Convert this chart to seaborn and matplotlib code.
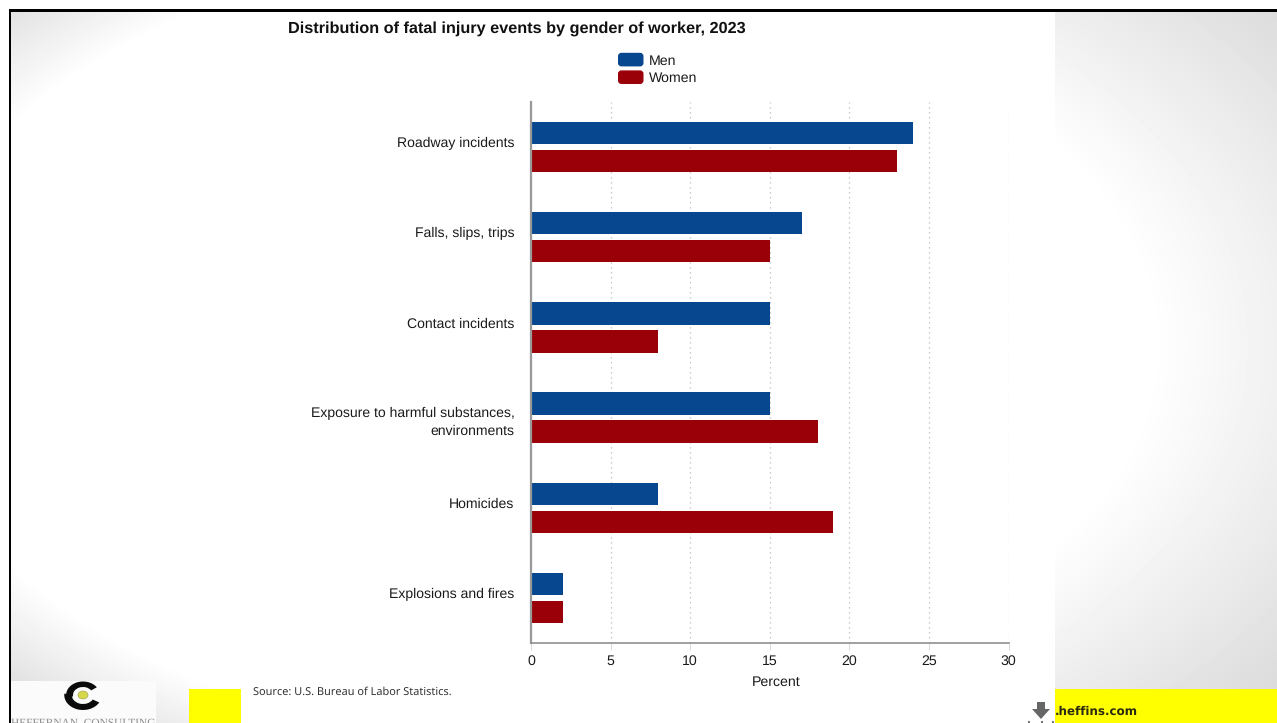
import numpy as np
import pandas as pd
import matplotlib
matplotlib.use("Agg")
import matplotlib.pyplot as plt
import matplotlib.transforms as mtrans
from matplotlib.legend_handler import HandlerPatch
from matplotlib.patches import Rectangle, Wedge, Ellipse, Polygon, FancyBboxPatch, Patch
import seaborn as sns

categories = ["Roadway incidents", "Falls, slips, trips", "Contact incidents",
              "Exposure to harmful substances,\nenvironments", "Homicides",
              "Explosions and fires"]
men = [24, 17, 15, 15, 8, 2]
women = [23, 15, 8, 18, 19, 2]
x_ticks = [0, 5, 10, 15, 20, 25, 30]
title = "Distribution of fatal injury events by gender of worker, 2023"

W, H = 1277, 723
MEN_COLOR = "#07478F"
WOMEN_COLOR = "#990008"
ARIAL = "Liberation Sans"

sns.set_theme(style="white")
plt.rcParams["font.family"] = [ARIAL, "DejaVu Sans"]
plt.rcParams["text.hinting"] = "none"

df = pd.DataFrame({
    "category": categories * 2,
    "percent": men + women,
    "gender": ["Men"] * len(men) + ["Women"] * len(women),
})

fig = plt.figure(figsize=(W / 100, H / 100), dpi=100, facecolor="white")

# Slide layer, addressed in pixels from the top-left corner
slide = fig.add_axes([0, 0, 1, 1], zorder=0)
slide.set_xlim(0, W)
slide.set_ylim(H, 0)
slide.axis("off")

# Slide backdrop: white centre fading to grey towards the corners
yy, xx = np.mgrid[0:H, 0:W]
left_t = np.hypot((xx - 600) / 590, (yy - 345) / 345)
right_t = np.hypot((xx - 600) / 550, (yy - 345) / 345)
shade = np.where(xx < 600,
                 140 * np.clip(left_t - 1.18, 0, None),
                 62 * np.clip(right_t - 1.0, 0, None))
slide.imshow(255 - np.clip(shade, 0, 60), cmap="gray", vmin=0, vmax=255,
             extent=(0, W, H, 0), aspect="auto", zorder=0, interpolation="bilinear")
slide.set_xlim(0, W)
slide.set_ylim(H, 0)

# Slide frame and margins outside it
slide.add_patch(Rectangle((0, 0), W, 9, fc="white", ec="none", zorder=1))
slide.add_patch(Rectangle((0, 0), 9, H, fc="white", ec="none", zorder=1))
slide.add_patch(Rectangle((8.5, 9), W, 2.5, fc="black", ec="none", zorder=3))
slide.add_patch(Rectangle((8.5, 9), 2.5, H, fc="black", ec="none", zorder=3))

# White chart panel
slide.add_patch(Rectangle((240, 11.5), 815, H, fc="white", ec="none", zorder=1))

# Footer strips
slide.add_patch(Rectangle((189, 689), 52, 34, fc="#FFFF00", ec="none", zorder=2))
slide.add_patch(Rectangle((1055, 689), 222, 34, fc="#FFFF00", ec="none", zorder=2))
slide.text(1055, 712, ".heffins.com", family="DejaVu Sans", weight="bold", fontsize=8.6,
           color="#2A2A10", va="center", ha="left", zorder=4)
slide.text(253, 691.5, "Source: U.S. Bureau of Labor Statistics.", family="Noto Sans",
           fontsize=7.9, color="#333333", va="center", ha="left", zorder=4)

# Company mark: two crescents around a yellow dot, slightly stretched sideways
slide.add_patch(Rectangle((11, 681), 145, 42, fc="#FBFBFB", ec="none", zorder=2))
stretch = mtrans.Affine2D().translate(-83, -695).scale(1.25, 1).translate(83, 695) + slide.transData
slide.add_patch(Wedge((83, 695), 13.5, 170, 325, width=5.5, fc="#0B0B0B", ec="none", zorder=3,
                      transform=stretch))
slide.add_patch(Wedge((83, 695), 15, 30, 185, width=6, fc="#0B0B0B", ec="none", zorder=3,
                      transform=stretch))
slide.add_patch(Ellipse((83, 695), 10, 8, fc="#D6D84A", ec="#A8A860", lw=0.5, zorder=4))
slide.text(11, 726, "HEFFERNAN  CONSULTING", family="Liberation Serif", fontsize=8.2,
           color="#8A8A8A", va="baseline", ha="left", zorder=4, clip_on=True)

# Download glyph
slide.add_patch(Polygon([(1037, 702), (1045, 702), (1045, 709), (1050, 709),
                         (1041, 719), (1032, 709), (1037, 709)],
                        fc="#666666", ec="none", zorder=4))
for px in (1028, 1041, 1052):
    slide.add_patch(Rectangle((px, 721), 1.5, 2, fc="#777777", ec="none", zorder=4))

# Chart
ax = fig.add_axes([531 / W, 1 - 643 / H, 477.5 / W, 541 / H], zorder=2)
ax.patch.set_visible(False)
sns.barplot(data=df, y="category", x="percent", hue="gender", order=categories,
            hue_order=["Men", "Women"], palette=[MEN_COLOR, WOMEN_COLOR],
            width=0.622, gap=0.2, saturation=1, linewidth=0, legend=False, ax=ax)

ax.set_xlim(0, 30)
ax.set_xticks(x_ticks)
ax.grid(axis="x", color="#BBBBBB", lw=0.9, ls=(0, (1, 3)))
ax.grid(axis="y", visible=False)
ax.set_axisbelow(True)

for side in ("top", "right"):
    ax.spines[side].set_visible(False)
ax.spines["left"].set_color("#999999")
ax.spines["left"].set_linewidth(1.6)
ax.spines["bottom"].set_color("#909090")
ax.spines["bottom"].set_linewidth(1.2)

ax.tick_params(axis="x", length=5, width=0.8, color="#D5DCE6", pad=3.4,
               labelsize=10.2, labelcolor="#1A1A1A", bottom=True)
ax.tick_params(axis="y", length=0, pad=12, labelsize=10.1, labelcolor="#1A1A1A")

# Single-line labels sit a little above their bars, the two-line label a little below
for label, text in zip(ax.get_yticklabels(), categories):
    dy = 3.6 if "\n" not in text else -1.0
    label.set_transform(label.get_transform()
                        + mtrans.ScaledTranslation(0, dy / 72, fig.dpi_scale_trans))
    label.set_linespacing(1.38)

ax.set_ylabel("")
ax.set_xlabel("Percent", fontsize=10.2, color="#1A1A1A", x=(776 - 531) / 478, labelpad=5.7)


def rounded_swatch(legend, orig_handle, xdescent, ydescent, width, height, fontsize):
    return FancyBboxPatch((-xdescent + 2, -ydescent + 1.5), width - 4, height - 3,
                          boxstyle="round,pad=1.5,rounding_size=2", mutation_scale=1)


ax.legend(handles=[Patch(color=MEN_COLOR, label="Men"), Patch(color=WOMEN_COLOR, label="Women")],
          handler_map={Patch: HandlerPatch(patch_func=rounded_swatch)},
          loc="upper left", bbox_to_anchor=(618 / W, 1 - 53.5 / H), bbox_transform=fig.transFigure,
          frameon=False, fontsize=10.2, labelcolor="#1A1A1A", handlelength=1.8, handleheight=0.95,
          handletextpad=0.4, labelspacing=0.26, borderpad=0, borderaxespad=0)

fig.text(517 / W, 1 - 28.7 / H, title, fontsize=11.68, weight="bold", color="#111111",
         ha="center", va="center", zorder=5)

fig.savefig("out.png", dpi=100)
